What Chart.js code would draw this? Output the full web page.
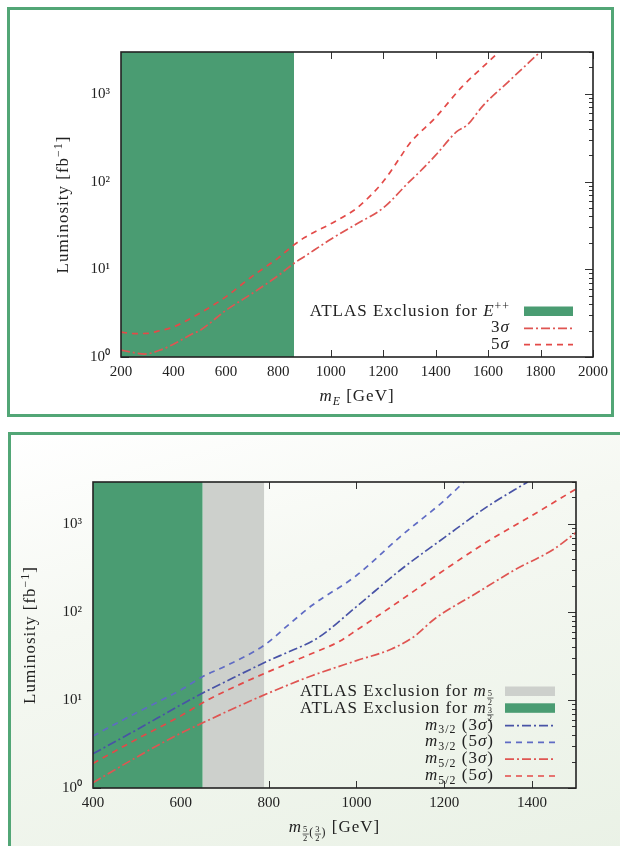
<!DOCTYPE html>
<html>
<head>
<meta charset="utf-8">
<script src="https://cdn.jsdelivr.net/npm/chart.js@4.4.0/dist/chart.umd.min.js"></script>
<style>
html, body { margin: 0; padding: 0; background: #fff; }
body { width: 620px; height: 846px; position: relative; overflow: hidden; }
.panel { position: absolute; box-sizing: border-box; border: 3px solid #52a676; }
#p1 { left: 7px; top: 7px; width: 607px; height: 410px; background: #fff; }
#p2 { left: 8px; top: 432px; width: 640px; height: 440px; border-right: none; border-bottom: none;
      background: linear-gradient(165deg, #ffffff 0%, #f5f8f2 35%, #e9f1e5 100%); }
canvas { position: absolute; left: 0; }
#c1 { top: 0; }
#c2 { top: 420px; }
</style>
</head>
<body>
<div class="panel" id="p1"></div>
<div class="panel" id="p2"></div>
<canvas id="c1" width="620" height="420"></canvas>
<canvas id="c2" width="620" height="426"></canvas>
<script>
// ---- E++ reach (upper plot) ----
const eMass3 = [200, 250, 290, 350, 400, 475, 500, 600, 700, 800, 860, 900, 1000, 1100, 1200, 1300, 1340, 1400, 1480, 1520, 1580, 1680, 1798];
const eLumi3 = [1.2, 1.12, 1.08, 1.2, 1.4, 1.85, 2.0, 3.4, 5.3, 8.5, 11.7, 14, 22, 33, 50, 100, 130, 200, 370, 440, 730, 1400, 3000];
const eMass5 = [200, 250, 300, 350, 400, 500, 600, 700, 800, 860, 900, 1000, 1050, 1100, 1200, 1270, 1300, 1400, 1500, 1600, 1641];
const eLumi5 = [1.92, 1.85, 1.86, 2.0, 2.2, 3.15, 4.85, 8.3, 13.5, 19, 23, 33, 40, 50, 100, 200, 270, 540, 1200, 2300, 3000];
const eExcl = [200, 860];

// ---- spin 3/2 and 5/2 reach (lower plot) ----
const m32Mass3 = [400, 500, 600, 650, 700, 800, 850, 910, 1000, 1100, 1200, 1300, 1390];
const m32Lumi3 = [2.45, 4.6, 8.8, 12, 16, 28, 36, 50, 115, 300, 700, 1600, 3000];
const m32Mass5 = [400, 500, 600, 650, 700, 790, 850, 900, 1000, 1100, 1200, 1245];
const m32Lumi5 = [3.9, 7.2, 13, 18.5, 24, 42, 75, 120, 260, 720, 1850, 3000];
const m52Mass3 = [400, 500, 600, 650, 700, 800, 900, 1000, 1080, 1130, 1180, 1270, 1360, 1450, 1500];
const m52Lumi3 = [1.15, 2.25, 4.2, 5.5, 7.2, 12, 19, 28, 38, 52, 85, 160, 300, 520, 800];
const m52Mass5 = [400, 500, 600, 650, 700, 800, 900, 960, 1000, 1100, 1200, 1300, 1400, 1500];
const m52Lumi5 = [1.9, 3.6, 6.6, 9.3, 12.5, 21, 34, 46, 62, 135, 300, 640, 1250, 2500];
const excl32 = [400, 650];
const excl52 = [650, 790];

const xTicksTop = [200, 400, 600, 800, 1000, 1200, 1400, 1600, 1800, 2000];
const xTicksBottom = [400, 600, 800, 1000, 1200, 1400];
const yTicks = [1, 10, 100, 1000];
const yTickLabels = ['10⁰', '10¹', '10²', '10³'];
const lumiMax = 3000;

const GREEN = '#4a9c72';
const GREY = '#cdd0cc';
const RED_DD = '#df5552';
const RED_D = '#e34a48';
const BLUE_DD = '#4853a6';
const BLUE_D = '#5f6bc4';
const DASHDOT = [9, 3, 2, 3];
const DASH = [6, 5];
const TXT = '#222';

function pts(xs, ys) { return xs.map((x, i) => ({ x: x, y: ys[i] })); }

function curve(xs, ys, color, dash) {
  return {
    data: pts(xs, ys), borderColor: color, borderWidth: 1.7, borderDash: dash,
    pointRadius: 0, fill: false, cubicInterpolationMode: 'monotone', order: 0
  };
}

function band(range, color) {
  return {
    data: [{ x: range[0], y: lumiMax }, { x: range[1], y: lumiMax }],
    backgroundColor: color, borderWidth: 0, pointRadius: 0, fill: 'start', order: 5
  };
}

// axis titles and keys, looked up by canvas id
const panelText = {
  c1: {
    yTitleX: 63, xTitleY: 401,
    xTitle: [{ t: 'm', it: true }, { t: 'E', it: true, sub: true }, { t: ' [GeV]' }],
    keyTop: 311, keyStep: 16.3, keyTextRight: 510, keySample: [524, 573],
    key: [
      { text: [{ t: 'ATLAS Exclusion for ' }, { t: 'E', it: true }, { t: '++', sup: true }], swatch: GREEN },
      { text: [{ t: '3' }, { t: 'σ', it: true }], stroke: RED_DD, dash: DASHDOT },
      { text: [{ t: '5' }, { t: 'σ', it: true }], stroke: RED_D, dash: DASH }
    ]
  },
  c2: {
    yTitleX: 30, xTitleY: 412,
    xTitle: [{ t: 'm', it: true }, { fr: ['5', '2'] }, { t: '(', sub: true }, { fr: ['3', '2'] }, { t: ')', sub: true }, { t: ' [GeV]' }],
    keyTop: 271, keyStep: 16.8, keyTextRight: 494, keySample: [505, 555],
    key: [
      { text: [{ t: 'ATLAS Exclusion for ' }, { t: 'm', it: true }, { fr: ['5', '2'] }], swatch: GREY },
      { text: [{ t: 'ATLAS Exclusion for ' }, { t: 'm', it: true }, { fr: ['3', '2'] }], swatch: GREEN },
      { text: [{ t: 'm', it: true }, { t: '3/2', sub: true }, { t: ' (3' }, { t: 'σ', it: true }, { t: ')' }], stroke: BLUE_DD, dash: DASHDOT },
      { text: [{ t: 'm', it: true }, { t: '3/2', sub: true }, { t: ' (5' }, { t: 'σ', it: true }, { t: ')' }], stroke: BLUE_D, dash: DASH },
      { text: [{ t: 'm', it: true }, { t: '5/2', sub: true }, { t: ' (3' }, { t: 'σ', it: true }, { t: ')' }], stroke: RED_DD, dash: DASHDOT },
      { text: [{ t: 'm', it: true }, { t: '5/2', sub: true }, { t: ' (5' }, { t: 'σ', it: true }, { t: ')' }], stroke: RED_D, dash: DASH }
    ]
  }
};

// small rich-text writer for sub/superscripts and tiny fractions
function fnt(size, it) { return (it ? 'italic ' : '') + size.toFixed(1) + 'px "Liberation Serif", serif'; }
function partW(ctx, p, size) {
  if (p.fr) {
    ctx.font = fnt(size * 0.5, false);
    return Math.max(ctx.measureText(p.fr[0]).width, ctx.measureText(p.fr[1]).width) + 2;
  }
  ctx.font = fnt((p.sup || p.sub) ? size * 0.7 : size, p.it);
  return ctx.measureText(p.t).width;
}
function rich(ctx, parts, x, y, align, size) {
  ctx.save();
  ctx.letterSpacing = '1px';
  const total = parts.reduce((w, p) => w + partW(ctx, p, size), 0);
  let cx = align === 'right' ? x - total : align === 'center' ? x - total / 2 : x;
  ctx.fillStyle = TXT;
  ctx.strokeStyle = TXT;
  ctx.textAlign = 'left';
  ctx.textBaseline = 'alphabetic';
  parts.forEach(p => {
    const w = partW(ctx, p, size);
    if (p.fr) {
      const fs = size * 0.5;
      ctx.font = fnt(fs, false);
      const mid = cx + w / 2;
      ctx.fillText(p.fr[0], mid - ctx.measureText(p.fr[0]).width / 2, y + size * 0.02);
      ctx.lineWidth = 0.7;
      ctx.beginPath(); ctx.moveTo(cx + 0.5, y + size * 0.12); ctx.lineTo(cx + w - 0.5, y + size * 0.12); ctx.stroke();
      ctx.fillText(p.fr[1], mid - ctx.measureText(p.fr[1]).width / 2, y + size * 0.5);
    } else {
      let s = size, dy = 0;
      if (p.sup) { s = size * 0.7; dy = -size * 0.38; }
      if (p.sub) { s = size * 0.7; dy = size * 0.22; }
      ctx.font = fnt(s, p.it);
      ctx.fillText(p.t, cx, y + dy);
    }
    cx += w;
  });
  ctx.restore();
}

const framePlugin = {
  id: 'frame',
  beforeDatasetsDraw(chart) {
    const { ctx, chartArea: a, scales: { x, y } } = chart;
    ctx.save();
    ctx.strokeStyle = '#333';
    ctx.lineWidth = 1;
    ctx.beginPath();
    x.ticks.forEach(t => {
      const px = Math.round(x.getPixelForValue(t.value)) + 0.5;
      ctx.moveTo(px, a.bottom); ctx.lineTo(px, a.bottom - 7);
      ctx.moveTo(px, a.top); ctx.lineTo(px, a.top + 7);
    });
    for (let k = 0; k < 4; k++) {
      for (let m = 1; m <= 9; m++) {
        const v = m * Math.pow(10, k);
        if (v > lumiMax) continue;
        const py = Math.round(y.getPixelForValue(v)) + 0.5;
        const len = m === 1 ? 8 : 4;
        ctx.moveTo(a.left, py); ctx.lineTo(a.left + len, py);
        ctx.moveTo(a.right, py); ctx.lineTo(a.right - len, py);
      }
    }
    ctx.stroke();
    ctx.restore();
  },
  afterDatasetsDraw(chart) {
    const { ctx, chartArea: a } = chart;
    const cfg = panelText[chart.canvas.id];
    ctx.save();
    ctx.strokeStyle = '#222';
    ctx.lineWidth = 1.6;
    ctx.strokeRect(a.left, a.top, a.right - a.left, a.bottom - a.top);
    ctx.restore();

    // axis titles
    const cy = (a.top + a.bottom) / 2;
    ctx.save();
    ctx.translate(cfg.yTitleX, cy);
    ctx.rotate(-Math.PI / 2);
    rich(ctx, [{ t: 'Luminosity [fb' }, { t: '−1', sup: true }, { t: ']' }], 0, 5, 'center', 17);
    ctx.restore();
    rich(ctx, cfg.xTitle, (a.left + a.right) / 2, cfg.xTitleY, 'center', 17);

    // key
    cfg.key.forEach((row, i) => {
      const yy = cfg.keyTop + i * cfg.keyStep;
      rich(ctx, row.text, cfg.keyTextRight, yy + 5, 'right', 17);
      ctx.save();
      if (row.swatch) {
        ctx.fillStyle = row.swatch;
        ctx.fillRect(cfg.keySample[0], yy - 4.5, cfg.keySample[1] - cfg.keySample[0], 9.5);
      } else {
        ctx.strokeStyle = row.stroke;
        ctx.lineWidth = 1.7;
        ctx.setLineDash(row.dash);
        ctx.beginPath();
        ctx.moveTo(cfg.keySample[0], yy + 1);
        ctx.lineTo(cfg.keySample[1], yy + 1);
        ctx.stroke();
      }
      ctx.restore();
    });
  }
};

function options(o) {
  return {
    responsive: false,
    animation: false,
    layout: { padding: { left: 0, right: o.padRight, top: o.padTop, bottom: 0 } },
    plugins: {
      legend: { display: false },
      tooltip: { enabled: false }
    },
    scales: {
      x: {
        type: 'linear', min: o.xMin, max: o.xMax,
        afterBuildTicks: s => { s.ticks = o.xTicks.map(v => ({ value: v })); },
        afterFit: s => { s.height = o.xAxisH; },
        grid: { display: false, drawTicks: false },
        border: { display: false },
        ticks: {
          padding: 6, maxRotation: 0, color: TXT, font: { family: 'Liberation Serif', size: 15 },
          callback: v => String(v)
        }
      },
      y: {
        type: 'logarithmic', min: 1, max: lumiMax,
        afterBuildTicks: s => { s.ticks = yTicks.map(v => ({ value: v })); },
        afterFit: s => { s.width = o.yAxisW; },
        grid: { display: false, drawTicks: false },
        border: { display: false },
        ticks: {
          padding: 11, color: TXT, font: { family: 'Liberation Serif', size: 15 },
          callback: v => yTickLabels[yTicks.indexOf(v)]
        }
      }
    }
  };
}

new Chart(document.getElementById('c1'), {
  type: 'line',
  data: {
    datasets: [
      curve(eMass3, eLumi3, RED_DD, DASHDOT),
      curve(eMass5, eLumi5, RED_D, DASH),
      band(eExcl, GREEN)
    ]
  },
  options: options({ xMin: 200, xMax: 2000, xTicks: xTicksTop, padTop: 52, padRight: 27, xAxisH: 63, yAxisW: 121 }),
  plugins: [framePlugin]
});

new Chart(document.getElementById('c2'), {
  type: 'line',
  data: {
    datasets: [
      curve(m32Mass3, m32Lumi3, BLUE_DD, DASHDOT),
      curve(m32Mass5, m32Lumi5, BLUE_D, DASH),
      curve(m52Mass3, m52Lumi3, RED_DD, DASHDOT),
      curve(m52Mass5, m52Lumi5, RED_D, DASH),
      band(excl52, GREY),
      band(excl32, GREEN)
    ]
  },
  options: options({ xMin: 400, xMax: 1500, xTicks: xTicksBottom, padTop: 62, padRight: 44, xAxisH: 58, yAxisW: 93 }),
  plugins: [framePlugin]
});
</script>
</body>
</html>
